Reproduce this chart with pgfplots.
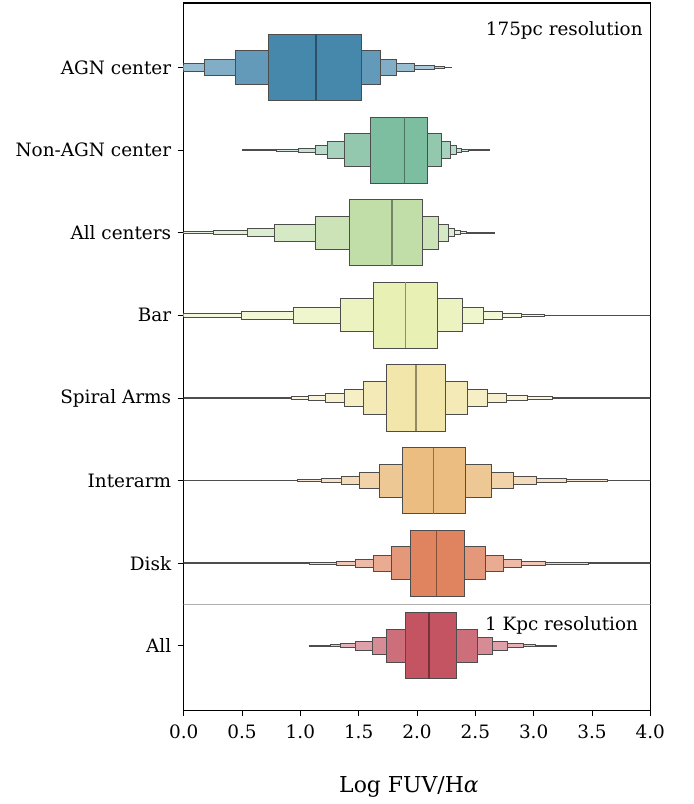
\documentclass[border=0pt]{standalone}
\usepackage{pgfplots}
\pgfplotsset{compat=1.18}
\usepackage{fontspec}
\setmainfont{DejaVu Serif}

\definecolor{edgec}{RGB}{77,77,77}
\definecolor{cA}{RGB}{70,135,172}
\definecolor{cB}{RGB}{126,190,160}
\definecolor{cC}{RGB}{193,222,168}
\definecolor{cD}{RGB}{232,240,180}
\definecolor{cE}{RGB}{242,230,170}
\definecolor{cF}{RGB}{235,189,128}
\definecolor{cG}{RGB}{224,132,96}
\definecolor{cH}{RGB}{196,84,98}

% \bx{y}{half height}{lo}{hi}{fill}
\newcommand{\bx}[5]{%
  \addplot[fill=#5, draw=edgec, line width=0.9bp, line join=miter]
    table[row sep=\\, y expr={#1+#2*\thisrow{s}}] {x s\\ #3 -1\\ #4 -1\\ #4 1\\ #3 1\\} -- cycle;}
% \md{y}{median}{color}
\newcommand{\md}[3]{%
  \addplot[draw=#3!60!black, line width=1.1bp]
    table[row sep=\\, y expr={#1+0.4*\thisrow{s}}] {x s\\ #2 -1\\ #2 1\\};}
% \ol{y}{lo}{hi}
\newcommand{\ol}[3]{%
  \addplot[draw=edgec, line width=1.6bp]
    table[row sep=\\, y expr={#1}] {x\\ #2\\ #3\\};}

\begin{document}
\begin{tikzpicture}[x=1bp,y=1bp]
\useasboundingbox (0,0) rectangle (694,804);
\begin{axis}[
  at={(183.7bp,93.7bp)}, anchor=south west,
  scale only axis, width=466.6bp, height=707.3bp,
  xmin=0, xmax=4, ymin=-0.78, ymax=7.78, y dir=reverse,
  xtick={0,0.5,...,4},
  ytick={0,1,2,3,4,5,6,7},
  yticklabels={AGN center, Non-AGN center, All centers, Bar, Spiral Arms, Interarm, Disk, All},
  tick align=outside, major tick length=6bp,
  xtick pos=bottom, ytick pos=left,
  tick style={black, line width=0.9bp},
  axis line style={black, line width=1.1bp},
  /pgf/number format/.cd, fixed, fixed zerofill, precision=1, assume math mode=true,
  /pgfplots/.cd,
  ticklabel style={font=\fontsize{18.5}{21}\selectfont},
  xticklabel style={yshift=-5bp},
  yticklabel style={xshift=-3bp},
  xlabel={Log FUV/H\textit{α}},
  xlabel style={font=\fontsize{22}{25}\selectfont, at={(axis description cs:0.5,-0.109)}, anchor=center, xshift=-8bp},
  clip=true,
]
% separator
\addplot[draw={rgb,255:red,176;green,176;blue,176}, line width=1.4bp] table[row sep=\\] {x y\\ -0.1 6.5\\ 4.1 6.5\\};

% AGN center (y=0)
\ol{0}{-0.5}{2.30}
\bx{0}{0.0125}{-0.4}{2.234}{cA!35!white}
\bx{0}{0.025}{-0.3}{2.148}{cA!45!white}
\bx{0}{0.05}{-0.2}{1.98}{cA!55!white}
\bx{0}{0.1}{0.174}{1.826}{cA!68!white}
\bx{0}{0.2}{0.446}{1.683}{cA!84!white}
\bx{0}{0.4}{0.729}{1.523}{cA}
\md{0}{1.134}{cA}

% Non-AGN center (y=1)
\ol{1}{0.497}{2.626}
\bx{1}{0.0125}{0.797}{2.443}{cB!35!white}
\bx{1}{0.025}{0.986}{2.383}{cB!45!white}
\bx{1}{0.05}{1.128}{2.337}{cB!55!white}
\bx{1}{0.1}{1.234}{2.283}{cB!68!white}
\bx{1}{0.2}{1.377}{2.206}{cB!84!white}
\bx{1}{0.4}{1.603}{2.092}{cB}
\md{1}{1.889}{cB}

% All centers (y=2)
\ol{2}{-0.2}{2.671}
\bx{2}{0.0125}{-0.1}{2.426}{cC!35!white}
\bx{2}{0.025}{0.257}{2.369}{cC!45!white}
\bx{2}{0.05}{0.545}{2.323}{cC!55!white}
\bx{2}{0.1}{0.78}{2.272}{cC!68!white}
\bx{2}{0.2}{1.131}{2.183}{cC!84!white}
\bx{2}{0.4}{1.423}{2.049}{cC}
\md{2}{1.786}{cC}

% Bar (y=3)
\ol{3}{-0.3}{4.3}
\bx{3}{0.0125}{-0.2}{3.091}{cD!35!white}
\bx{3}{0.025}{-0.1}{2.898}{cD!45!white}
\bx{3}{0.05}{0.491}{2.732}{cD!55!white}
\bx{3}{0.1}{0.94}{2.566}{cD!68!white}
\bx{3}{0.2}{1.343}{2.389}{cD!84!white}
\bx{3}{0.4}{1.626}{2.177}{cD}
\md{3}{1.90}{cD}

% Spiral Arms (y=4)
\ol{4}{-0.3}{4.3}
\bx{4}{0.00625}{0.76}{3.446}{cE!28!white}
\bx{4}{0.0125}{0.92}{3.163}{cE!35!white}
\bx{4}{0.025}{1.068}{2.946}{cE!45!white}
\bx{4}{0.05}{1.214}{2.769}{cE!55!white}
\bx{4}{0.1}{1.374}{2.6}{cE!68!white}
\bx{4}{0.2}{1.543}{2.431}{cE!84!white}
\bx{4}{0.4}{1.734}{2.24}{cE}
\md{4}{1.991}{cE}

% Interarm (y=5)
\ol{5}{-0.3}{4.3}
\bx{5}{0.0125}{0.974}{3.635}{cF!35!white}
\bx{5}{0.025}{1.183}{3.283}{cF!45!white}
\bx{5}{0.05}{1.348}{3.026}{cF!55!white}
\bx{5}{0.1}{1.509}{2.826}{cF!68!white}
\bx{5}{0.2}{1.677}{2.637}{cF!84!white}
\bx{5}{0.4}{1.874}{2.417}{cF}
\md{5}{2.14}{cF}

% Disk (y=6)
\ol{6}{-0.3}{4.3}
\bx{6}{0.0125}{1.08}{3.469}{cG!35!white}
\bx{6}{0.025}{1.308}{3.103}{cG!45!white}
\bx{6}{0.05}{1.469}{2.894}{cG!55!white}
\bx{6}{0.1}{1.623}{2.743}{cG!68!white}
\bx{6}{0.2}{1.777}{2.589}{cG!84!white}
\bx{6}{0.4}{1.946}{2.406}{cG}
\md{6}{2.169}{cG}

% All (y=7)
\ol{7}{1.077}{3.198}
\bx{7}{0.0125}{1.254}{3.012}{cH!35!white}
\bx{7}{0.025}{1.34}{2.911}{cH!45!white}
\bx{7}{0.05}{1.474}{2.772}{cH!55!white}
\bx{7}{0.1}{1.614}{2.646}{cH!68!white}
\bx{7}{0.2}{1.74}{2.517}{cH!84!white}
\bx{7}{0.4}{1.897}{2.337}{cH}
\md{7}{2.103}{cH}

\node[anchor=base east, font=\fontsize{18.4}{22}\selectfont] at (rel axis cs:0.991,0.9536) {175pc resolution};
\node[anchor=base east, font=\fontsize{18.4}{22}\selectfont] at (rel axis cs:0.981,0.1134) {1 Kpc resolution};
\end{axis}
\end{tikzpicture}
\end{document}
